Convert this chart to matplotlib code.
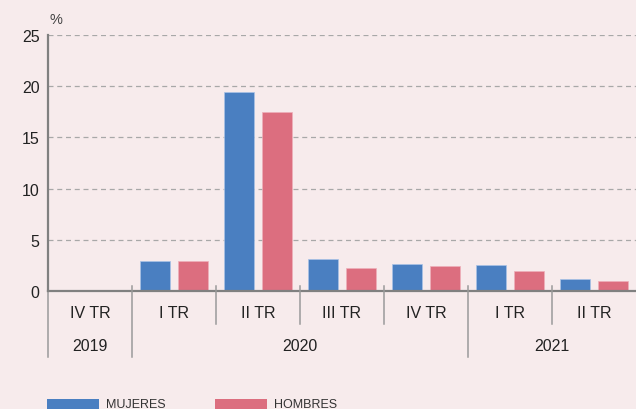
import matplotlib
matplotlib.use("Agg")
import matplotlib.pyplot as plt
import matplotlib.transforms as mtransforms
from matplotlib.patches import Rectangle
import numpy as np

quarters = ["IV TR", "I TR", "II TR", "III TR", "IV TR", "I TR", "II TR"]
years = ["2019", "2020", "2021"]
year_spans = [(0, 1), (1, 5), (5, 7)]
mujeres = [0.05, 2.9, 19.4, 3.1, 2.6, 2.55, 1.15]
hombres = [0.1, 2.9, 17.5, 2.25, 2.4, 1.95, 1.0]
series_names = ["MUJERES", "HOMBRES"]
yticks = [0, 5, 10, 15, 20, 25]

BG = "#f7ebec"
BLUE = "#4a7fc1"
PINK = "#dc6e7f"
GRAY = "#808080"
TXT = "#222222"
FONT = ["Liberation Sans", "DejaVu Sans"]

W, H = 636, 410
fig = plt.figure(figsize=(W / 100, H / 100), dpi=100, facecolor=BG)
ax = fig.add_axes([48 / W, (H - 292) / H, 588 / W, 256 / H], facecolor=BG)

n = len(quarters)
x = np.arange(n)
bw = 30 / 84
ax.bar(x + 23 / 84, mujeres, width=bw, color=BLUE, edgecolor="#a9c3e6", linewidth=0.5, zorder=3)
ax.bar(x + 61 / 84, hombres, width=bw, color=PINK, edgecolor="#eeb0ba", linewidth=0.5, zorder=3)

ax.set_xlim(0, n)
ax.set_ylim(0, 25)
ax.set_yticks(yticks)
ax.set_yticklabels([str(v) for v in yticks], fontsize=11.5, color=TXT, family=FONT)
ax.tick_params(axis="y", length=0, pad=6)
ax.set_xticks([])
for s in ["top", "right", "bottom"]:
    ax.spines[s].set_visible(False)
ax.spines["left"].set_color(GRAY)
ax.spines["left"].set_linewidth(1.6)
ax.spines["left"].set_zorder(5)

for v in yticks[1:]:
    ax.axhline(v, color="#a8a8a8", lw=0.9, ls=(0, (4, 3)), zorder=1)
ax.axhline(0, color=GRAY, lw=1.6, zorder=4, clip_on=False)

trans = mtransforms.blended_transform_factory(ax.transData, ax.transAxes)
px = 1 / 256  # one pixel in axes-y units
year_bounds = set(a for a, b in year_spans) | set(b for a, b in year_spans)
for i in range(n):
    bottom = -66 * px if i in year_bounds else -33 * px
    ax.plot([i, i], [5 * px, bottom], transform=trans, color="#9a9a9a", lw=1.1,
            clip_on=False, zorder=4)

for i, q in enumerate(quarters):
    ax.text(i + 0.5, -22 * px, q, transform=trans, ha="center", va="center",
            fontsize=11.5, color=TXT, family=FONT)
for yr, (a, b) in zip(years, year_spans):
    ax.text((a + b) / 2, -55 * px, yr, transform=trans, ha="center", va="center",
            fontsize=11.5, color=TXT, family=FONT)

fig.text(50 / W, 1 - 20 / H, "%", ha="left", va="center", fontsize=10.5,
         color="#444444", family=FONT)

# legend
leg_x = [47, 215]
for lx, name, col in zip(leg_x, series_names, [BLUE, PINK]):
    fig.patches.append(Rectangle((lx / W, 0), 52 / W, 10 / H, transform=fig.transFigure,
                                 facecolor=col, edgecolor="none"))
    fig.text((lx + 59) / W, 2 / H, name, ha="left", va="baseline", fontsize=9,
             color="#333333", family=FONT)

fig.savefig("out.png", dpi=100, facecolor=BG)
